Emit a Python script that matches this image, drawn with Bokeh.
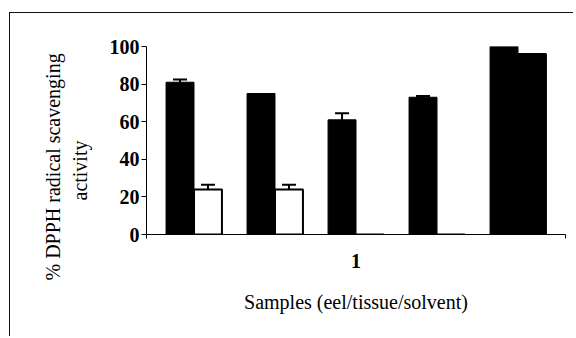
import math
from bokeh.plotting import figure
from bokeh.models import Range1d, FixedTicker, Whisker, TeeHead, ColumnDataSource, Title
from bokeh.embed import file_html
from bokeh.resources import INLINE

# ---- data ----
groups = [0, 1, 2, 3, 4]
first_values = [81, 75, 61, 73, 100]
first_errors = [1.5, 0, 3.5, 0.7, 0]
second_values = [24, 24, 0, 0, 96]
second_errors = [2.5, 2.5, 0, 0, 0]
second_colors = ["white", "white", "white", "white", "black"]
y_ticks = [0, 20, 40, 60, 80, 100]
category_label = "1"
x_title = "Samples (eel/tissue/solvent)"
y_title_lines = ["% DPPH radical scavenging", "activity"]

# ---- layout ----
BAR_W = 0.345
MARGIN = 0.0864
SERIF = "Liberation Serif"

n = len(groups)
centers = [g + 0.5 for g in groups]
x_first = [c - BAR_W / 2 for c in centers]
x_second = [c + BAR_W / 2 for c in centers]

p = figure(width=564, height=324, output_backend="svg", toolbar_location=None,
           x_range=Range1d(-MARGIN, n + MARGIN), y_range=Range1d(0, 100),
           min_border_left=136, min_border_right=9, min_border_top=33, min_border_bottom=103)
p.margin = (12, 0, 0, 9)
p.styles = {"border-left": "1px solid #111", "border-top": "1px solid #111"}
p.outline_line_color = None
p.xgrid.visible = False
p.ygrid.visible = False
p.background_fill_color = "white"
p.border_fill_color = "white"

src1 = ColumnDataSource(dict(x=x_first, top=first_values))
src2 = ColumnDataSource(dict(x=x_second, top=second_values, color=second_colors))
p.vbar(x="x", top="top", width=BAR_W, source=src1, fill_color="black", line_color="black", line_width=1)
p.vbar(x="x", top="top", width=BAR_W, source=src2, fill_color="color", line_color="black", line_width=2)

ex, el, eu = [], [], []
for xs, vs, es in ((x_first, first_values, first_errors), (x_second, second_values, second_errors)):
    for x, v, e in zip(xs, vs, es):
        if e > 0:
            ex.append(x); el.append(v - e); eu.append(v + e)
esrc = ColumnDataSource(dict(base=ex, lower=el, upper=eu))
p.add_layout(Whisker(base="base", lower="lower", upper="upper", source=esrc,
                     line_color="black", line_width=2,
                     upper_head=TeeHead(size=14, line_width=2, line_color="black"),
                     lower_head=TeeHead(size=14, line_width=2, line_color="black")))

# axes
p.yaxis.ticker = FixedTicker(ticks=y_ticks)
p.yaxis.major_tick_out = 5
p.yaxis.major_tick_in = 0
p.yaxis.minor_tick_out = 0
p.yaxis.major_label_standoff = 2
p.yaxis.major_label_text_font = SERIF
p.yaxis.major_label_text_font_style = "bold"
p.yaxis.major_label_text_font_size = "20px"
p.yaxis.major_label_text_color = "black"
p.yaxis.axis_line_color = "black"
p.yaxis.major_tick_line_color = "black"

mid = n / 2
p.xaxis.ticker = FixedTicker(ticks=[mid], minor_ticks=[-MARGIN, n + MARGIN])
p.xaxis.major_label_overrides = {mid: category_label}
p.xaxis.major_tick_out = 0
p.xaxis.major_tick_in = 0
p.xaxis.minor_tick_out = 4
p.xaxis.minor_tick_in = 0
p.xaxis.minor_tick_line_color = "black"
p.xaxis.major_label_standoff = 15
p.xaxis.major_label_text_font = SERIF
p.xaxis.major_label_text_font_style = "bold"
p.xaxis.major_label_text_font_size = "20px"
p.xaxis.major_label_text_color = "black"
p.xaxis.axis_line_color = "black"
p.xaxis.axis_label = x_title
p.xaxis.axis_label_text_font = SERIF
p.xaxis.axis_label_text_font_style = "normal"
p.xaxis.axis_label_text_font_size = "20px"
p.xaxis.axis_label_text_color = "black"
p.xaxis.axis_label_standoff = 20

# y title (two rotated lines) as left-side titles
p.add_layout(Title(text=y_title_lines[1], align="left", offset=34, standoff=32,
                   text_font=SERIF, text_font_size="20px", text_font_style="normal",
                   text_color="black"), "left")
p.add_layout(Title(text=y_title_lines[0], align="left", offset=-46, standoff=-26,
                   text_font=SERIF, text_font_size="20px", text_font_style="normal",
                   text_color="black"), "left")

open("out.html", "w").write(file_html(p, INLINE))
